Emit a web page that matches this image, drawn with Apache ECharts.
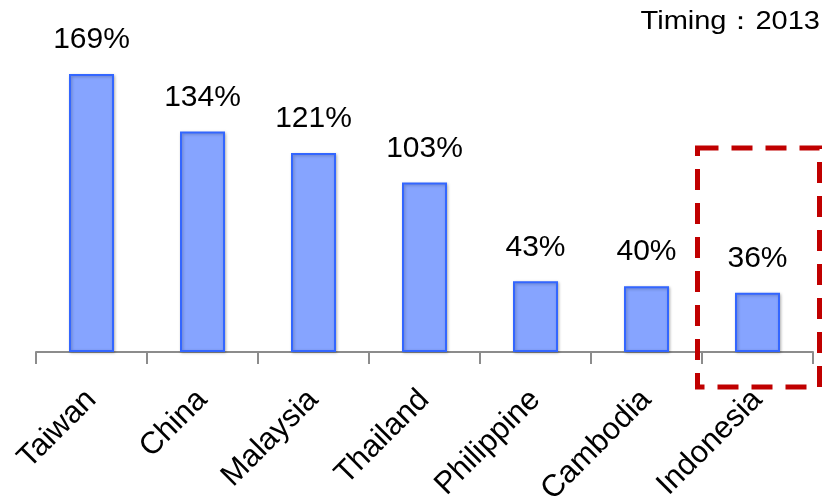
<!DOCTYPE html>
<html>
<head>
<meta charset="utf-8">
<script src="https://cdn.jsdelivr.net/npm/echarts@6/dist/echarts.min.js"></script>
<style>
  html, body { margin: 0; padding: 0; background: #fff; }
  #chart { width: 823px; height: 499px; }
</style>
</head>
<body>
<div id="chart"></div>
<script>
const categories = ['Taiwan', 'China', 'Malaysia', 'Thailand', 'Philippine', 'Cambodia', 'Indonesia'];
const ratios = [169, 134, 121, 103, 43, 40, 36];
const timingLabel = 'Timing\uFF1A2013';

const chart = echarts.init(document.getElementById('chart'));
const FONT = '"Liberation Sans", Arial, sans-serif';

chart.setOption({
  animation: false,
  grid: {
    left: 36, right: 10, top: 23, bottom: 147,
    containLabel: false,
    outerBoundsMode: 'none'
  },
  xAxis: {
    type: 'category',
    data: categories,
    axisLine: { lineStyle: { color: '#8c8c8c', width: 2 } },
    axisTick: { show: true, length: 12, lineStyle: { color: '#8c8c8c', width: 2 } },
    axisLabel: {
      rotate: 45,
      margin: 43,
      fontFamily: FONT,
      fontSize: 31,
      color: '#000'
    }
  },
  yAxis: {
    type: 'value',
    min: 0,
    max: 200,
    show: false,
    splitLine: { show: false }
  },
  series: [{
    type: 'bar',
    data: ratios,
    barWidth: 45,
    itemStyle: {
      color: '#86a4ff',
      borderColor: '#3366ff',
      borderWidth: 2,
      shadowColor: 'rgba(0,0,0,0.25)',
      shadowBlur: 3,
      shadowOffsetX: 1,
      shadowOffsetY: 1
    },
    label: {
      show: true,
      position: 'top',
      distance: 19,
      formatter: '{c}%',
      fontFamily: FONT,
      fontSize: 30,
      color: '#000'
    }
  }]
});

// Timing caption (slightly widened) and the highlight box around the last category
const lastIdx = categories.length - 1;
const center = chart.convertToPixel({ xAxisIndex: 0 }, categories[lastIdx]);
chart.setOption({
  graphic: [{
    type: 'text',
    x: 820,
    y: 22,
    scaleX: 1.16,
    style: {
      text: timingLabel,
      font: '25px "Liberation Sans", Arial, sans-serif',
      fill: '#000',
      align: 'right',
      verticalAlign: 'middle'
    }
  }, {
    type: 'rect',
    shape: { x: center - 60, y: 148, width: 122, height: 239 },
    style: { fill: 'none', stroke: '#c00000', lineWidth: 5, lineDash: [21, 13] },
    z: 10
  }]
});
</script>
</body>
</html>
